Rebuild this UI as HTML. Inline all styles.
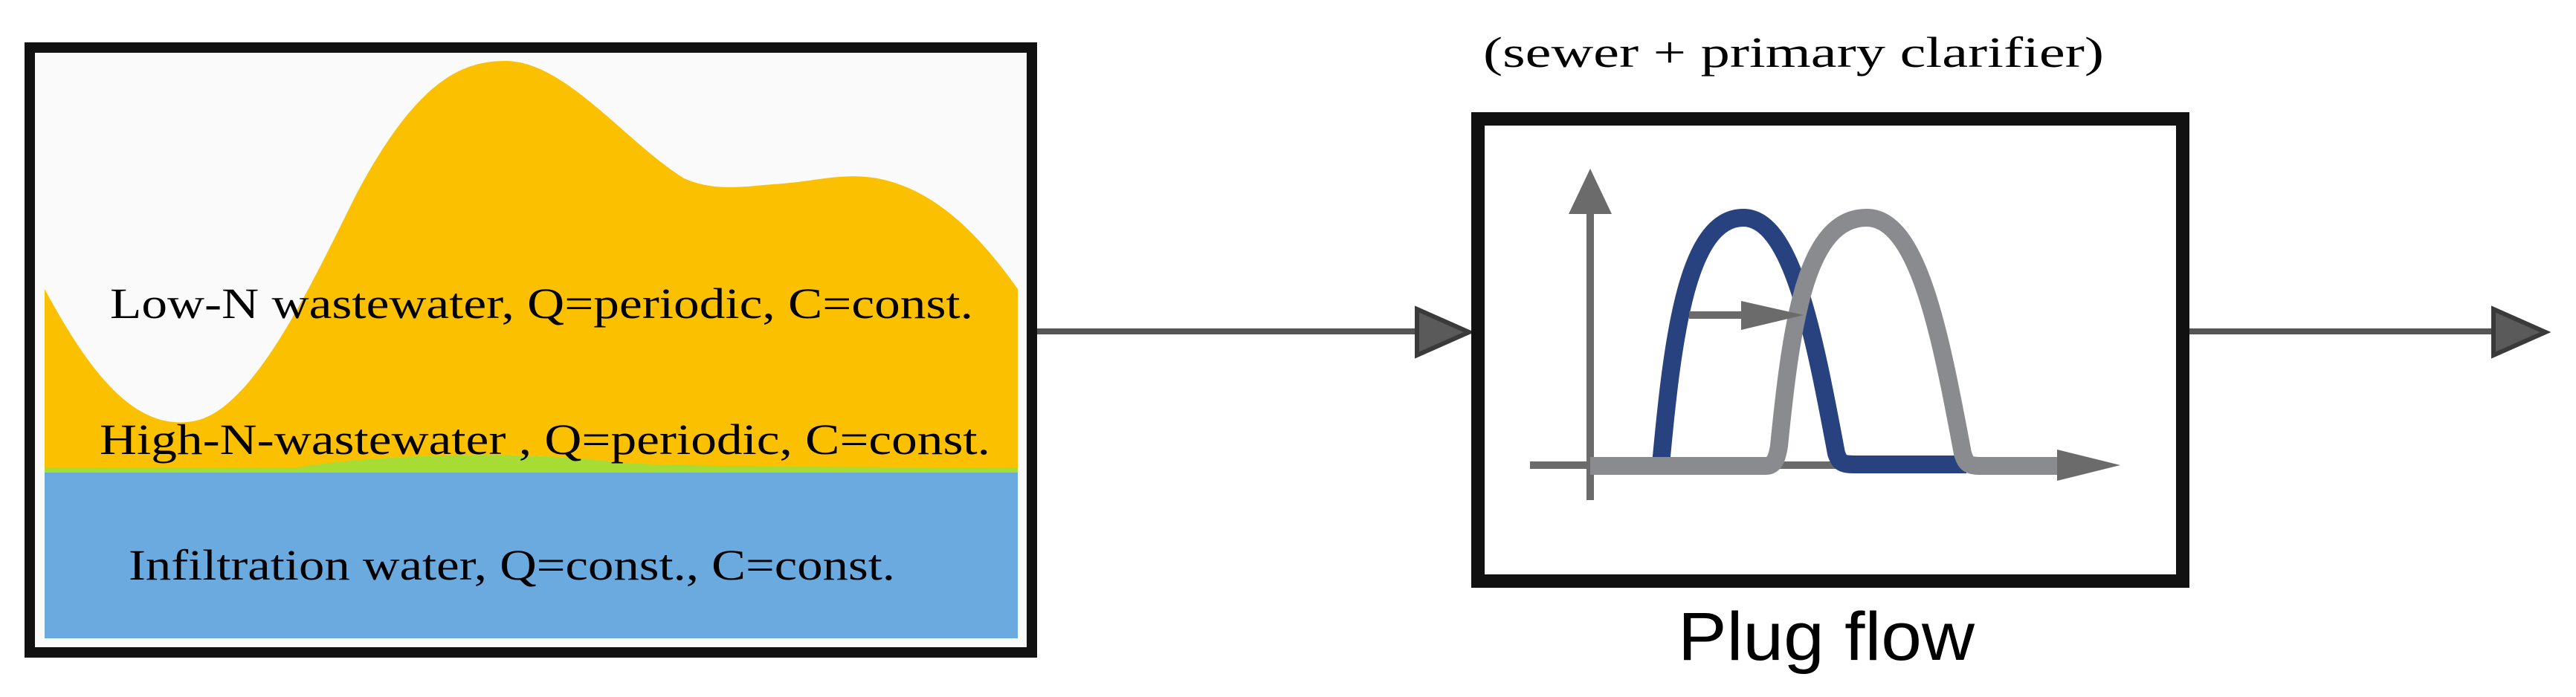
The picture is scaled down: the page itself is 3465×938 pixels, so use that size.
<!DOCTYPE html>
<html><head><meta charset="utf-8"><style>
html,body{margin:0;padding:0;background:#fff;}
svg{display:block;}
</style></head><body>
<svg width="3465" height="938" viewBox="0 0 3465 938" xmlns="http://www.w3.org/2000/svg">
<rect width="3465" height="938" fill="#fff"/>
<!-- left box -->
<rect x="40" y="64" width="1348" height="814" fill="#fafafa" stroke="#111" stroke-width="14"/>
<rect x="60" y="630" width="1309" height="229" fill="#6aaadf"/>
<path d="M60,628 L400,628 C500,612 700,605 830,622 C900,628 1200,628 1369,628 L1369,636 L60,636 Z" fill="#a6dc33"/>
<path d="M60,389 C120,500 180,580 259,567 C340,555 420,380 480,260 C560,110 620,82 680,82 C760,82 840,190 920,240 C960,258 1000,251 1040,248 C1100,244 1130,232 1180,240 C1260,255 1320,320 1369,389 L1369,629 C1200,629 900,629 830,622 C700,605 500,612 400,629 L60,629 Z" fill="#fbc000"/>
<g font-family="'Liberation Serif', serif" font-size="58" fill="#000">
<text x="148" y="428" textLength="1161" lengthAdjust="spacingAndGlyphs">Low-N wastewater, Q=periodic, C=const.</text>
<text x="134" y="611" textLength="1198" lengthAdjust="spacingAndGlyphs">High-N-wastewater , Q=periodic, C=const.</text>
<text x="173" y="780" textLength="1031" lengthAdjust="spacingAndGlyphs">Infiltration water, Q=const., C=const.</text>
<text x="1995" y="90" textLength="835" lengthAdjust="spacingAndGlyphs">(sewer + primary clarifier)</text>
</g>
<!-- connectors -->
<line x1="1395" y1="446" x2="1910" y2="446" stroke="#555" stroke-width="8"/>
<polygon points="1906,416 1906,478 1976,447" fill="#5a5a5a" stroke="#3a3a3a" stroke-width="6" stroke-linejoin="miter"/>
<line x1="2945" y1="446" x2="3355" y2="446" stroke="#555" stroke-width="8"/>
<polygon points="3354,416 3354,478 3424,447" fill="#5a5a5a" stroke="#3a3a3a" stroke-width="6"/>
<!-- middle box -->
<rect x="1988" y="160" width="948" height="622" fill="#fff" stroke="#111" stroke-width="18"/>
<!-- chart -->
<line x1="2139" y1="280" x2="2139" y2="673" stroke="#6b6b6b" stroke-width="10"/>
<polygon points="2110,288 2168,288 2139,227" fill="#6b6b6b"/>
<line x1="2058" y1="626" x2="2775" y2="626" stroke="#6b6b6b" stroke-width="10"/>
<polygon points="2767,605 2767,647 2852,626" fill="#6b6b6b"/>
<path d="M2234,625 C2250,450 2270,293 2345,293 C2410,293 2440,450 2470,610 C2475,625 2480,625 2500,625 L2645,625" fill="none" stroke="#27427f" stroke-width="24"/>
<path d="M2139,627 L2375,627 C2385,627 2390,620 2393,600 C2410,430 2430,293 2511,293 C2580,293 2610,450 2640,610 C2645,627 2650,627 2670,627 L2767,627" fill="none" stroke="#8a8b8e" stroke-width="24"/>
<line x1="2272" y1="424" x2="2345" y2="424" stroke="#6b6b6b" stroke-width="10"/>
<polygon points="2342,405 2342,444 2426,424" fill="#6b6b6b"/>
<text x="2257" y="888" font-family="'Liberation Sans', sans-serif" font-size="92" fill="#000" textLength="399" lengthAdjust="spacingAndGlyphs">Plug flow</text>
</svg>
</body></html>
